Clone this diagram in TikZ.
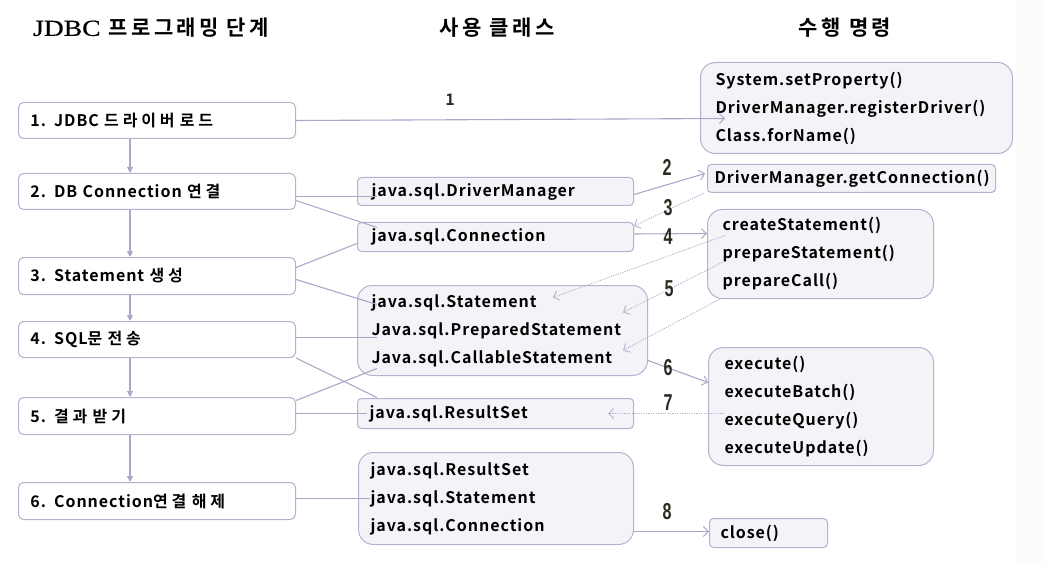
\documentclass[tikz,border=0pt]{standalone}
\usepackage{fontspec}
\setmainfont{Noto Sans CJK KR}
\newfontfamily\hdrfont{Noto Sans CJK KR}[UprightFont=* Bold, LetterSpace=16]
\newfontfamily\hdrlat{Liberation Serif}[FakeStretch=1.2, FakeBold=0.6]
\newfontfamily\boxfont{Noto Sans CJK KR}[UprightFont=* Bold, LetterSpace=6]
\newfontfamily\hgfont{Noto Sans CJK KR}[UprightFont=* Bold, LetterSpace=24]
\newcommand\hg[1]{{\hgfont #1}}
\newfontfamily\numfont{Liberation Sans}[UprightFont=* Bold, FakeStretch=0.7]
\usetikzlibrary{arrows.meta}
\definecolor{bcol}{HTML}{B5B2D0}
\definecolor{lcol}{HTML}{ABA7C9}
\definecolor{mfill}{HTML}{F4F3F8}
\definecolor{numcol}{HTML}{2E2A22}
\definecolor{band}{HTML}{FCFCFD}
\tikzset{
  basebox/.style={draw=bcol, line width=1pt, anchor=north west, inner ysep=0pt, align=left,
    font=\boxfont\fontsize{16}{28}\selectfont},
  lbox/.style={basebox, fill=white, rounded corners=5pt, inner xsep=12pt, text width=253pt, minimum height=36pt},
  mbox/.style={basebox, fill=mfill, rounded corners=4pt},
  rbox/.style={basebox, fill=mfill, rounded corners=15pt},
  conn/.style={draw=lcol, line width=1.1pt},
  arr/.style={conn, -{Straight Barb[length=5pt,width=10pt,line width=1pt]}},
  dotarr/.style={draw=bcol, line width=0.9pt, dash pattern=on 1.2pt off 1.2pt, -{Straight Barb[length=5pt,width=10pt,line width=0.9pt]}},
  varr/.style={conn, -{Triangle[length=6pt,width=6pt]}},
  num/.style={text=numcol, font=\numfont\fontsize{23}{23}\selectfont, inner sep=0pt},
  hdr/.style={font=\hdrfont\fontsize{21}{21}\selectfont, inner sep=0pt}
}
\begin{document}
\begin{tikzpicture}[x=1pt,y=-1pt]
\useasboundingbox (0,0) rectangle (1044,564);
\fill[band] (1015,0) rectangle (1044,564);

% headers
\node[hdr] (h1) at (151,28) {{\hdrlat\fontsize{23}{23}\selectfont JDBC} 프로그래밍 단계};
\node[hdr] (h2) at (497,28) {사용 클래스};
\node[hdr] (h3) at (845,28) {수행 명령};

% left steps
\node[lbox] (s1) at (18,102) {1. JDBC \hg{드라이버 로드}};
\node[lbox] (s2) at (18,173) {2. DB Connection \hg{연결}};
\node[lbox, minimum height=37pt] (s3) at (18,257) {3. Statement \hg{생성}};
\node[lbox] (s4) at (18,321) {4. SQL\hg{문 전송}};
\node[lbox, minimum height=37pt] (s5) at (18,397) {5. \hg{결과 받기}};
\node[lbox, minimum height=37pt] (s6) at (18,482) {6. Connection\hg{연결 해제}};

% middle classes
\node[mbox, inner xsep=14pt, text width=248pt, minimum height=28pt] (m1) at (357,177) {java.sql.DriverManager};
\node[mbox, inner xsep=14pt, text width=248pt, minimum height=29pt] (m2) at (357,222) {java.sql.Connection};
\node[rbox, inner xsep=14pt, text width=262pt, minimum height=90pt] (m3) at (357,285)
  {java.sql.Statement\\Java.sql.PreparedStatement\\Java.sql.CallableStatement};
\node[mbox, inner xsep=12pt, text width=252pt, minimum height=30pt] (m4) at (357,398) {java.sql.ResultSet};
\node[rbox, inner xsep=12pt, text width=251pt, minimum height=92pt] (m5) at (358,452)
  {java.sql.ResultSet\\java.sql.Statement\\java.sql.Connection};

% right commands
\node[rbox, inner xsep=15pt, text width=282pt, minimum height=91pt] (r1) at (700,62)
  {System.setProperty()\\DriverManager.registerDriver()\\Class.forName()};
\node[mbox, inner xsep=7pt, text width=274pt, minimum height=28pt] (r2) at (707,164) {DriverManager.getConnection()};
\node[rbox, inner xsep=15pt, text width=196pt, minimum height=89pt] (r3) at (707,209)
  {createStatement()\\prepareStatement()\\prepareCall()};
\node[rbox, inner xsep=16pt, text width=193pt, minimum height=118pt] (r4) at (708,347)
  {execute()\\executeBatch()\\executeQuery()\\executeUpdate()};
\node[mbox, inner xsep=11pt, text width=96pt, minimum height=29pt] (r5) at (709,518) {close()};

% vertical flow
\coordinate (vx) at (130,0);
\draw[varr] (s1.south -| vx) -- (s2.north -| vx);
\draw[varr] (s2.south -| vx) -- (s3.north -| vx);
\draw[varr] (s3.south -| vx) -- (s4.north -| vx);
\draw[varr] (s4.south -| vx) -- (s5.north -| vx);
\draw[varr] (s5.south -| vx) -- (s6.north -| vx);

% steps to classes
\draw[conn] ([yshift=-5pt]s2.east) -- ([xshift=20pt,yshift=-5pt]m1.west);
\draw[conn] ([yshift=-9pt]s2.east) -- ([xshift=20pt,yshift=9.5pt]m2.west);
\draw[conn] ([yshift=8.5pt]s3.east) -- ([yshift=-6.5pt]m2.west);
\draw[conn] ([yshift=-3.5pt]s3.east) -- ([xshift=20pt,yshift=26pt]m3.west);
\draw[conn] ([yshift=2pt]s4.east) -- ([xshift=20pt,yshift=-7pt]m3.west);
\draw[conn] (s4.south east) -- ([xshift=20pt,yshift=16pt]m4.west);
\draw[conn] ([yshift=15.5pt]s5.east) -- ([xshift=20pt,yshift=-38pt]m3.west);
\draw[conn] ([yshift=2.5pt]s5.east) -- ([xshift=10pt]m4.west);
\draw[conn] ([yshift=2.5pt]s6.east) -- ([xshift=12pt]m5.west);

% classes to commands
\draw[arr] (s1.east) -- ([xshift=25pt,yshift=-10.5pt]r1.west);
\draw[arr] ([yshift=-3pt]m1.east) -- ([xshift=-2pt,yshift=5pt]r2.west);
\draw[dotarr] ([xshift=-3pt]r2.south west) -- ([yshift=11pt]m2.east);
\draw[arr] ([yshift=3pt]m2.east) -- ([yshift=20.5pt]r3.west);
\draw[dotarr] ([xshift=18pt,yshift=18.5pt]r3.west) -- ([xshift=196pt,yshift=33pt]m3.west);
\draw[dotarr] ([xshift=15pt,yshift=-8.5pt]r3.west) -- ([xshift=266pt,yshift=18pt]m3.west);
\draw[dotarr] ([xshift=13pt]r3.south west) -- ([xshift=266pt,yshift=-20pt]m3.west);
\draw[arr] ([yshift=-30pt]m3.east) -- ([yshift=24pt]r4.west);
\draw[dotarr] ([xshift=16pt,yshift=-7pt]r4.west) -- ([xshift=-26pt]m4.east);
\draw[arr] ([yshift=-33pt]m5.east) -- ([yshift=1.5pt]r5.west);

% step numbers
\node[num, font=\boxfont\fontsize{16}{16}\selectfont] (n1) at (450,100) {1};
\node[num] (n2) at (667,167) {2};
\node[num] (n3) at (668,208) {3};
\node[num] (n4) at (668,237) {4};
\node[num] (n5) at (669,289) {5};
\node[num] (n6) at (668,368) {6};
\node[num] (n7) at (668,403) {7};
\node[num] (n8) at (667,512) {8};
\end{tikzpicture}
\end{document}
